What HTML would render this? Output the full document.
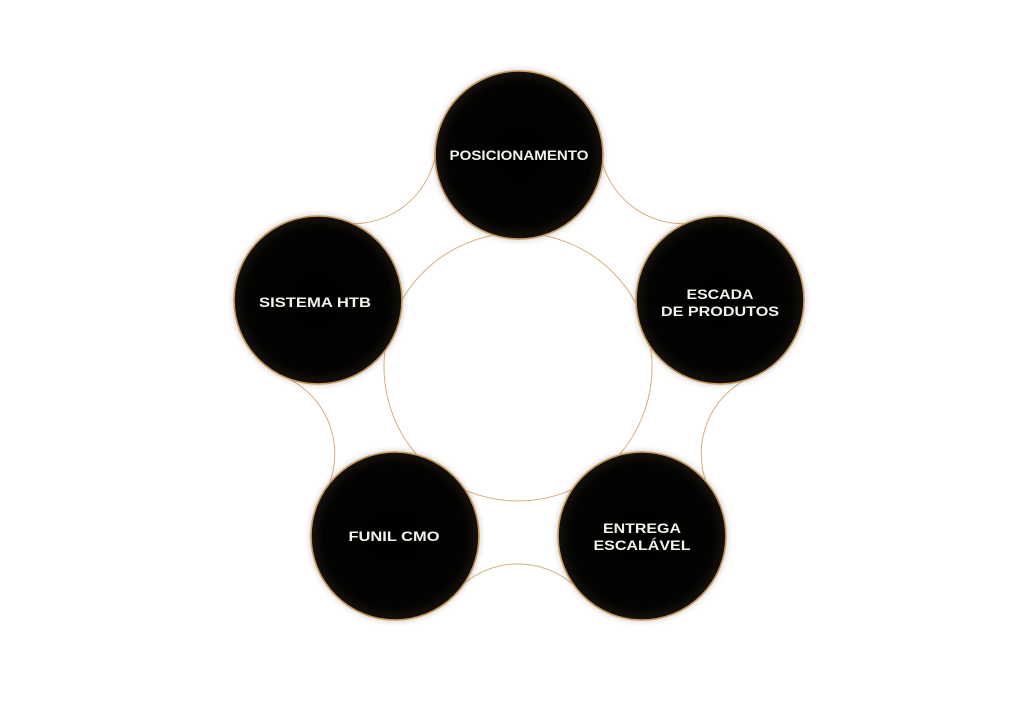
<!DOCTYPE html>
<html><head><meta charset="utf-8"><style>
html,body{margin:0;padding:0;background:#fff;width:1024px;height:720px;overflow:hidden}
text{font-family:"Liberation Sans",sans-serif;font-weight:bold;font-size:13.5px;fill:#f4f1ec}
</style></head><body>
<svg width="1024" height="720" viewBox="0 0 1024 720" xmlns="http://www.w3.org/2000/svg">
<defs>
<radialGradient id="g" cx="50%" cy="50%" r="50%">
<stop offset="0" stop-color="#000"/>
<stop offset="0.85" stop-color="#030302"/>
<stop offset="1" stop-color="#16120d"/>
</radialGradient>
<filter id="s" x="-20%" y="-20%" width="140%" height="140%"><feGaussianBlur stdDeviation="3"/></filter>
<path id="a" d="M452 596 A84 84 0 0 1 584 596"/>
</defs>
<g fill="none" stroke="#d6b07c" stroke-width="1">
<circle cx="518" cy="367" r="134"/>
<use href="#a"/>
<use href="#a" transform="rotate(72 518 367)"/>
<use href="#a" transform="rotate(144 518 367)"/>
<use href="#a" transform="rotate(216 518 367)"/>
<use href="#a" transform="rotate(288 518 367)"/>
</g>
<g>
<circle cx="519" cy="155" r="86" fill="#000" opacity="0.15" filter="url(#s)"/>
<circle cx="720" cy="300" r="86" fill="#000" opacity="0.15" filter="url(#s)"/>
<circle cx="642" cy="536" r="86" fill="#000" opacity="0.15" filter="url(#s)"/>
<circle cx="395" cy="536" r="86" fill="#000" opacity="0.15" filter="url(#s)"/>
<circle cx="318" cy="300" r="86" fill="#000" opacity="0.15" filter="url(#s)"/>
</g>
<g fill="url(#g)" stroke="#c99a5b" stroke-width="1.6">
<circle cx="519" cy="155" r="84"/>
<circle cx="720" cy="300" r="84"/>
<circle cx="642" cy="536" r="84"/>
<circle cx="395" cy="536" r="84"/>
<circle cx="318" cy="300" r="84"/>
</g>
<text x="519" y="160" text-anchor="middle" textLength="139" lengthAdjust="spacingAndGlyphs">POSICIONAMENTO</text>
<text x="720" y="299" text-anchor="middle" textLength="67" lengthAdjust="spacingAndGlyphs">ESCADA</text>
<text x="720" y="316" text-anchor="middle" textLength="118" lengthAdjust="spacingAndGlyphs">DE PRODUTOS</text>
<text x="642" y="533" text-anchor="middle" textLength="78" lengthAdjust="spacingAndGlyphs">ENTREGA</text>
<text x="642" y="550" text-anchor="middle" textLength="97" lengthAdjust="spacingAndGlyphs">ESCALÁVEL</text>
<text x="394" y="541" text-anchor="middle" textLength="91" lengthAdjust="spacingAndGlyphs">FUNIL CMO</text>
<text x="315" y="307" text-anchor="middle" textLength="112" lengthAdjust="spacingAndGlyphs">SISTEMA HTB</text>
</svg>
</body></html>
